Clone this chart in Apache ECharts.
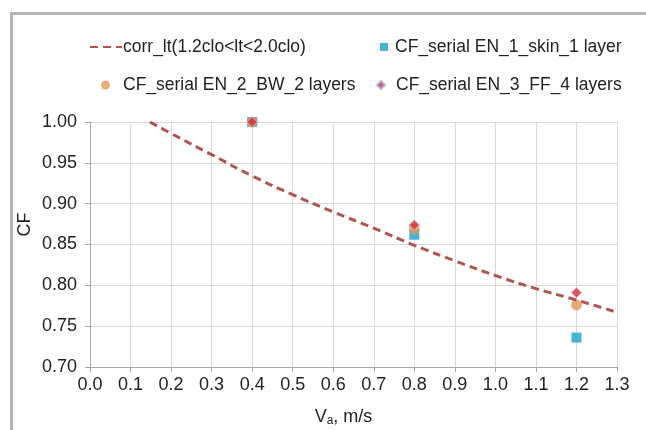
<!DOCTYPE html>
<html>
<head>
<meta charset="utf-8">
<script src="https://cdn.jsdelivr.net/npm/echarts@6/dist/echarts.min.js"></script>
<style>
  html, body { margin: 0; padding: 0; background: #fff; }
  .cf-frame {
    position: absolute; left: 10px; top: 12px; width: 636px; height: 418px;
    border-top: 3px solid #b3b3b3; border-left: 3px solid #b3b3b3;
    box-sizing: border-box;
  }
  #cf-chart { position: absolute; left: 0; top: 0; width: 646px; height: 430px; }
</style>
</head>
<body>
<div class="cf-frame"></div>
<div id="cf-chart"></div>
<script>
  // correlation curve
  var curveX = [0.148, 0.2, 0.3, 0.4, 0.5, 0.6, 0.7, 0.8, 0.9, 1.0, 1.1, 1.2, 1.3];
  var curveY = [1.000, 0.986, 0.960, 0.934, 0.911, 0.890, 0.870, 0.849, 0.830, 0.812, 0.796, 0.782, 0.767];

  // measured points
  var va = [0.4, 0.8, 1.2];
  var skin1 = [1.000, 0.862, 0.736];
  var bw2 = [1.000, 0.869, 0.776];
  var ff4 = [1.000, 0.874, 0.791];

  var names = ['corr_lt(1.2clo<lt<2.0clo)', 'CF_serial EN_1_skin_1 layer',
               'CF_serial EN_2_BW_2 layers', 'CF_serial EN_3_FF_4 layers'];

  function pairs(xs, ys) {
    return ys.map(function (y, i) { return [xs[i], y]; });
  }

  var font = 'Liberation Sans, Arial, sans-serif';
  var txt = { fontFamily: font, fontSize: 18, color: '#222' };
  function legTxt(padLeft) {
    return { fontFamily: font, fontSize: 17.5, color: '#222', padding: [0, 0, 0, padLeft] };
  }

  var myChart = echarts.init(document.getElementById('cf-chart'));
  var option = {
    animation: false,
    grid: { left: 90, right: 29, top: 122, bottom: 63, outerBoundsMode: 'none' },
    legend: [
      // line entry: hide the marker, keep the dashed stroke
      { left: 84, top: 33, itemWidth: 32, itemHeight: 10, textStyle: legTxt(-4),
        itemStyle: { opacity: 0 }, data: [names[0]] },
      { left: 375, top: 33, itemWidth: 8, itemHeight: 8, textStyle: legTxt(2), data: [names[1]] },
      { left: 96, top: 71, itemWidth: 9, itemHeight: 9, textStyle: legTxt(8), data: [names[2]] },
      { left: 371, top: 71, itemWidth: 8, itemHeight: 8, textStyle: legTxt(6), data: [names[3]] }
    ],
    xAxis: {
      type: 'value', min: 0, max: 1.3, interval: 0.1,
      name: '{v|V}{s|a}{v|, m/s}', nameLocation: 'middle', nameGap: 40,
      nameTextStyle: {
        padding: [0, 20, 0, 0],
        rich: {
          v: { fontFamily: font, fontSize: 18, color: '#222' },
          s: { fontFamily: font, fontSize: 12, color: '#222', padding: [8, 0, 0, 0] }
        }
      },
      axisLabel: Object.assign({ margin: 9, formatter: function (v) { return v.toFixed(1); } }, txt),
      axisLine: { lineStyle: { color: '#a6a6a6' } },
      axisTick: { show: true, length: 5, lineStyle: { color: '#a6a6a6' } },
      splitLine: { show: true, lineStyle: { color: '#d9d9d9' } }
    },
    yAxis: {
      type: 'value', min: 0.70, max: 1.00, interval: 0.05,
      name: 'CF', nameLocation: 'middle', nameGap: 56, nameMoveOverlap: false,
      nameTextStyle: Object.assign({ padding: [0, 0, 0, 40] }, txt),
      axisLabel: Object.assign({ margin: 13, formatter: function (v) { return v.toFixed(2); } }, txt),
      axisLine: { show: true, lineStyle: { color: '#a6a6a6' } },
      axisTick: { show: true, length: 5, lineStyle: { color: '#a6a6a6' } },
      splitLine: { show: true, lineStyle: { color: '#d9d9d9' } }
    },
    series: [
      {
        name: names[0], type: 'line', data: pairs(curveX, curveY), smooth: true,
        symbol: 'none', color: '#b0564f',
        lineStyle: { type: [8, 5], width: 3, color: '#b0564f' }
      },
      {
        name: names[1], type: 'scatter', data: pairs(va, skin1),
        symbol: 'rect', symbolSize: 10, itemStyle: { color: '#17a2c8' }
      },
      {
        name: names[2], type: 'scatter', data: pairs(va, bw2),
        symbol: 'circle', symbolSize: 11, itemStyle: { color: '#e0995a' }
      },
      {
        name: names[3], type: 'scatter', data: pairs(va, ff4),
        symbol: 'diamond', symbolSize: 10,
        itemStyle: { color: '#e8232b', borderColor: '#9bb8e0', borderWidth: 1 }
      }
    ]
  };
  myChart.setOption(option);
</script>
</body>
</html>
